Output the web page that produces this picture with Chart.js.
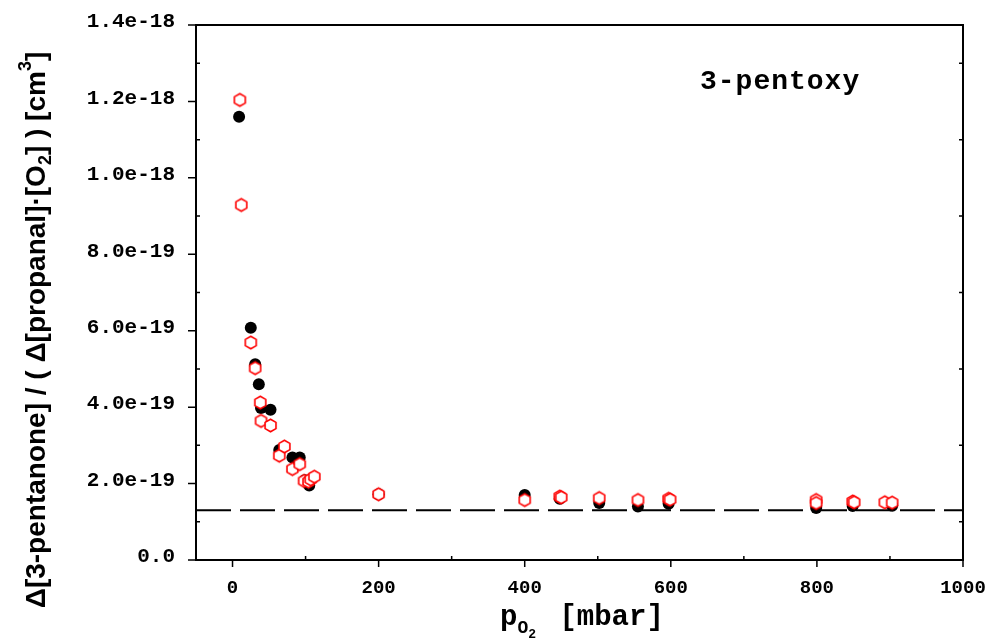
<!DOCTYPE html>
<html>
<head>
<meta charset="utf-8">
<script src="https://cdn.jsdelivr.net/npm/chart.js@4/dist/chart.umd.min.js"></script>
<style>
  html, body { margin: 0; padding: 0; background: #fff; }
  #wrap { width: 991px; height: 643px; position: relative; }
</style>
</head>
<body>
<div id="wrap"><canvas id="c"></canvas></div>
<script>
// O2 partial pressure [mbar] and ratio [cm3] - filled black circles
const pressureBlack = [9, 25, 31, 36, 39, 52, 64, 82, 92, 99, 105, 200, 400, 448, 502, 555, 597, 799, 849, 903];
const ratioBlack = [1.16e-18, 6.08e-19, 5.12e-19, 4.60e-19, 3.98e-19, 3.93e-19, 2.88e-19, 2.68e-19, 2.68e-19, 2.09e-19,
                    1.95e-19, 1.72e-19, 1.70e-19, 1.60e-19, 1.49e-19, 1.40e-19, 1.47e-19, 1.36e-19, 1.41e-19, 1.42e-19];

// open red hexagons
const pressureRed = [10, 12, 25, 31, 38, 39, 52, 64, 71, 82, 92, 98, 104, 107, 112, 200, 400, 448, 450, 502,
                     555, 597, 599, 799, 799, 849, 851, 893, 903];
const ratioRed = [1.204e-18, 9.29e-19, 5.69e-19, 5.02e-19, 4.12e-19, 3.64e-19, 3.52e-19, 2.73e-19, 2.97e-19, 2.38e-19,
                  2.51e-19, 2.07e-19, 2.05e-19, 2.11e-19, 2.18e-19, 1.72e-19, 1.57e-19, 1.66e-19, 1.64e-19, 1.62e-19,
                  1.57e-19, 1.60e-19, 1.58e-19, 1.57e-19, 1.49e-19, 1.53e-19, 1.51e-19, 1.51e-19, 1.50e-19];

// limiting value (dashed line)
const plateau = 1.3e-19;
const plateauRange = [-50, 1000];

const xTicks = [0, 200, 400, 600, 800, 1000];
const xMinor = [100, 300, 500, 700, 900];
const yTicks = [0, 2e-19, 4e-19, 6e-19, 8e-19, 1e-18, 1.2e-18, 1.4e-18];
const yMinor = [1e-19, 3e-19, 5e-19, 7e-19, 9e-19, 1.1e-18, 1.3e-18];

const annotation = '3-pentoxy';

// red open hexagon as point image
function hexagon(r, color) {
  const cv = document.createElement('canvas');
  const s = Math.ceil(r * 2 + 4);
  cv.width = s; cv.height = s;
  const g = cv.getContext('2d');
  g.beginPath();
  for (let k = 0; k < 6; k++) {
    const a = -Math.PI / 2 + k * Math.PI / 3;
    const px = s / 2 + r * Math.cos(a), py = s / 2 + r * Math.sin(a);
    k ? g.lineTo(px, py) : g.moveTo(px, py);
  }
  g.closePath();
  g.fillStyle = '#fff';
  g.fill();
  g.lineWidth = 1.6;
  g.strokeStyle = color;
  g.stroke();
  return cv;
}

function drawParts(ctx, parts, x, y, align) {
  // parts: [text, font, dy, extra gap after]
  let total = 0;
  parts.forEach(p => { ctx.font = p[1]; total += ctx.measureText(p[0]).width + (p[3] || 0); });
  let cx = align === 'center' ? x - total / 2 : x;
  parts.forEach(p => {
    ctx.font = p[1];
    ctx.fillText(p[0], cx, y + p[2]);
    cx += ctx.measureText(p[0]).width + (p[3] || 0);
  });
}

const framePlugin = {
  id: 'frame',
  afterDraw(chart) {
    const { ctx, chartArea: a, scales: { x, y } } = chart;
    ctx.save();
    ctx.strokeStyle = '#000';
    ctx.lineWidth = 2;
    ctx.strokeRect(a.left, a.top, a.right - a.left, a.bottom - a.top);
    ctx.lineWidth = 1.5;
    ctx.beginPath();
    xTicks.forEach(v => { const px = x.getPixelForValue(v); ctx.moveTo(px, a.bottom); ctx.lineTo(px, a.bottom + 7); });
    xMinor.forEach(v => { const px = x.getPixelForValue(v); ctx.moveTo(px, a.bottom); ctx.lineTo(px, a.bottom - 4); });
    yTicks.forEach(v => { const py = y.getPixelForValue(v); ctx.moveTo(a.left, py); ctx.lineTo(a.left - 8, py); });
    yMinor.forEach(v => {
      const py = y.getPixelForValue(v);
      ctx.moveTo(a.left, py); ctx.lineTo(a.left + 4, py);
      ctx.moveTo(a.right, py); ctx.lineTo(a.right - 4, py);
    });
    ctx.stroke();

    ctx.fillStyle = '#000';
    ctx.textBaseline = 'alphabetic';
    // annotation
    ctx.font = 'bold 28px "Liberation Mono"';
    ctx.letterSpacing = '1px';
    ctx.textAlign = 'left';
    ctx.fillText(annotation, 700, 89);
    ctx.letterSpacing = '0px';

    // x title
    drawParts(ctx, [
      ['p', 'bold 29px "Liberation Mono"', 0],
      ['O', 'bold 18px "Liberation Mono"', 8],
      ['2', 'bold 13px "Liberation Mono"', 13, 6],
      [' [mbar]', 'bold 29px "Liberation Mono"', 0]
    ], 500, 625, 'left');

    // y title
    ctx.translate(45, 330);
    ctx.rotate(-Math.PI / 2);
    const f = 'bold 28px "Liberation Sans"', fs = 'bold 18px "Liberation Sans"';
    drawParts(ctx, [
      ['\u0394[3-pentanone] / ( \u0394[propanal]\u00b7[O', f, 0],
      ['2', fs, 6],
      ['] ) [cm', f, 0],
      ['3', fs, -14],
      [']', f, 0]
    ], 0, 0, 'center');
    ctx.restore();
  }
};

new Chart(document.getElementById('c'), {
  type: 'scatter',
  data: {
    datasets: [
      {
        label: 'red',
        data: pressureRed.map((p, i) => ({ x: p, y: ratioRed[i] })),
        pointStyle: hexagon(6.3, '#ff0000'),
        order: 0
      },
      {
        label: 'black',
        data: pressureBlack.map((p, i) => ({ x: p, y: ratioBlack[i] })),
        pointStyle: 'circle',
        pointRadius: 6,
        backgroundColor: '#000',
        borderWidth: 0,
        order: 1
      },
      {
        type: 'line',
        label: 'plateau',
        data: plateauRange.map(p => ({ x: p, y: plateau })),
        borderColor: '#000',
        borderWidth: 2,
        borderDash: [35, 9],
        pointRadius: 0,
        order: 2
      }
    ]
  },
  options: {
    responsive: true,
    maintainAspectRatio: false,
    animation: false,
    events: [],
    layout: { padding: { top: 25, right: 28, left: 0, bottom: 0 } },
    plugins: { legend: { display: false }, tooltip: { enabled: false } },
    scales: {
      x: {
        type: 'linear',
        min: -50,
        max: 1000,
        afterBuildTicks: s => { s.ticks = xTicks.map(v => ({ value: v })); },
        afterFit: s => { s.height = 83; s.paddingLeft = 0; s.paddingRight = 0; },
        grid: { display: false },
        border: { display: false },
        ticks: {
          color: '#000', padding: 9, maxRotation: 0,
          font: { family: 'Liberation Mono', size: 19, weight: 'bold' },
          callback: v => String(v)
        }
      },
      y: {
        type: 'linear',
        min: 0,
        max: 1.4e-18,
        afterBuildTicks: s => { s.ticks = yTicks.map(v => ({ value: v })); },
        afterFit: s => { s.width = 196; s.paddingTop = 0; s.paddingBottom = 0; },
        grid: { display: false },
        border: { display: false },
        ticks: {
          color: '#000', padding: 13, labelOffset: -3,
          font: { family: 'Liberation Mono', size: 21, weight: 'bold' },
          callback: v => v === 0 ? '0.0' : Number(v).toExponential(1)
        }
      }
    }
  },
  plugins: [framePlugin]
});
</script>
</body>
</html>
